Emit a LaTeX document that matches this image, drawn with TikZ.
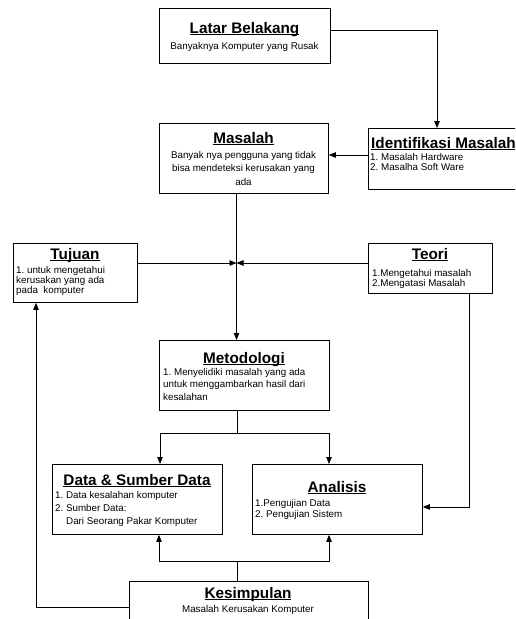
\documentclass[tikz,border=0pt]{standalone}
\usepackage{fontspec}
\setmainfont{Liberation Sans}
\usetikzlibrary{arrows.meta}
\frenchspacing
\newcommand{\ulttl}[1]{\setbox0\hbox{#1}\rlap{\rule[-2.2pt]{\wd0}{1pt}}\box0}
\tikzset{
  box/.style={draw, line width=0.8pt, rectangle, inner sep=0pt, anchor=north west},
  ttl/.style={anchor=base, inner sep=0pt, font=\fontsize{15.3}{18}\selectfont\bfseries},
  ttlw/.style={ttl, anchor=base west},
  txt/.style={anchor=base west, inner sep=0pt, font=\fontsize{9.8}{12}\selectfont\frenchspacing},
  ctxt/.style={txt, anchor=base},
  conn/.style={line width=0.8pt},
  arr/.style={conn, -{Triangle[length=7pt,width=5.5pt]}}
}
\begin{document}
\begin{tikzpicture}[x=1pt,y=-1pt]
\useasboundingbox (0,0) rectangle (515,619);
\clip (0,0) rectangle (515,619);
\fill[white] (0,0) rectangle (515,619);
% boxes
\node[box, minimum width=171pt, minimum height=55pt] (latar) at (159,8) {};
\node[box, minimum width=169pt, minimum height=70pt] (masalah) at (159,123) {};
\node[box, minimum width=160pt, minimum height=61pt] (ident) at (368,128) {};
\node[box, minimum width=124pt, minimum height=59pt] (tujuan) at (13,243) {};
\node[box, minimum width=124pt, minimum height=50pt] (teori) at (368,243) {};
\node[box, minimum width=170pt, minimum height=70pt] (metod) at (159,340) {};
\node[box, minimum width=170pt, minimum height=70pt] (data) at (52,464) {};
\node[box, minimum width=170pt, minimum height=70pt] (analisis) at (252,464) {};
\node[box, minimum width=239pt, minimum height=50pt] (kesim) at (129,581) {};
% texts
\node[ttl] (latarT) at (244.5,33) {\ulttl{Latar Belakang}};
\node[ctxt] (latarB) at (244.5,49) {Banyaknya Komputer yang Rusak};
\node[ttl] (masalahT) at (243.5,143) {\ulttl{Masalah}};
\node[ctxt] (masalahB1) at (243.5,158.5) {Banyak nya pengguna yang tidak};
\node[ctxt] (masalahB2) at (243.5,171.5) {bisa mendeteksi kerusakan yang};
\node[ctxt] (masalahB3) at (243.5,185) {ada};
\node[ttlw] (identT) at (371,148) {\ulttl{Identifikasi Masalah}};
\node[txt] (identB1) at (370,160.5) {1. Masalah Hardware};
\node[txt] (identB2) at (370,170.5) {2. Masalha Soft Ware};
\node[ttl] (tujuanT) at (75,259) {\ulttl{Tujuan}};
\node[txt] (tujuanB1) at (16,273.5) {1. untuk mengetahui};
\node[txt] (tujuanB2) at (16,283.5) {kerusakan yang ada};
\node[txt] (tujuanB3) at (16,293.5) {pada\ \ komputer};
\node[ttl] (teoriT) at (430,259) {\ulttl{Teori}};
\node[txt] (teoriB1) at (372,276.5) {1.Mengetahui masalah};
\node[txt] (teoriB2) at (372,286.5) {2.Mengatasi Masalah};
\node[ttl] (metodT) at (244,363) {\ulttl{Metodologi}};
\node[txt] (metodB1) at (163,375.5) {1. Menyelidiki masalah yang ada};
\node[txt] (metodB2) at (163,387.5) {untuk menggambarkan hasil dari};
\node[txt] (metodB3) at (163,400.5) {kesalahan};
\node[ttl] (dataT) at (137,485) {\ulttl{Data \& Sumber Data}};
\node[txt] (dataB1) at (55,498.5) {1. Data kesalahan komputer};
\node[txt] (dataB2) at (55,511.5) {2. Sumber Data:};
\node[txt] (dataB3) at (66,524.5) {Dari Seorang Pakar Komputer};
\node[ttl] (analisisT) at (337,492) {\ulttl{Analisis}};
\node[txt] (analisisB1) at (255,506.5) {1.Pengujian Data};
\node[txt] (analisisB2) at (255,517.5) {2. Pengujian Sistem};
\node[ttl] (kesimT) at (248,598) {\ulttl{Kesimpulan}};
\node[ctxt] (kesimB) at (248,612.5) {Masalah Kerusakan Komputer};
% helper coordinates
\coordinate (c1) at (437,30);
\coordinate (c2) at (236.5,263);
\coordinate (c3) at (469,507);
\coordinate (c4) at (237,433);
\coordinate (c5) at (160,433);
\coordinate (c6) at (329,433);
\coordinate (c7) at (237,561);
\coordinate (c8) at (159,561);
\coordinate (c9) at (329,561);
\coordinate (c10) at (36,607);
% connectors
\draw[arr] (latar.east |- c1) -- (c1) -- (ident.north -| c1);
\draw[arr] (ident.west |- 0,155) -- (masalah.east |- 0,155);
\draw[arr] (masalah.south -| c2) -- (metod.north -| c2);
\draw[arr] (tujuan.east |- c2) -- (c2);
\draw[arr] (teori.west |- c2) -- (c2);
\draw[arr] (teori.south -| c3) -- (c3) -- (analisis.east |- c3);
\draw[conn] (metod.south -| c4) -- (c4);
\draw[arr] (c4) -- (c5) -- (data.north -| c5);
\draw[arr] (c4) -- (c6) -- (analisis.north -| c6);
\draw[conn] (kesim.north -| c7) -- (c7);
\draw[arr] (c7) -- (c8) -- (data.south -| c8);
\draw[arr] (c7) -- (c9) -- (analisis.south -| c9);
\draw[arr] (kesim.west |- c10) -- (c10) -- (tujuan.south -| c10);
\end{tikzpicture}
\end{document}
